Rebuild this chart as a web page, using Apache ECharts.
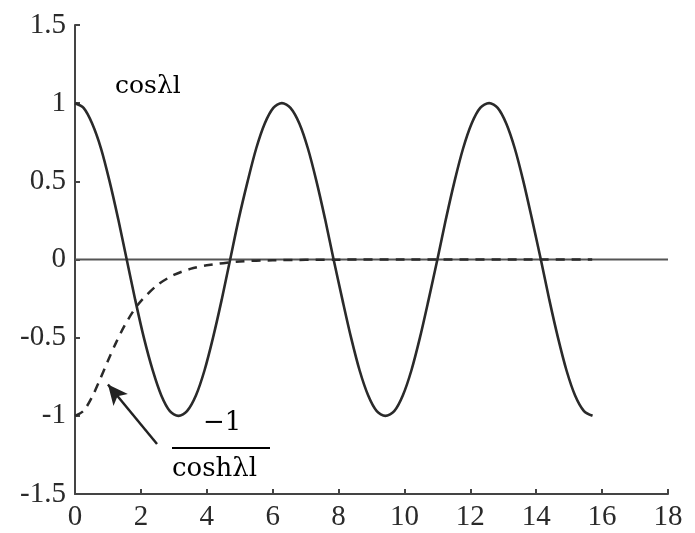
<!DOCTYPE html>
<html>
<head>
<meta charset="utf-8">
<script src="https://cdn.jsdelivr.net/npm/echarts@6/dist/echarts.min.js"></script>
<style>
  html, body { margin: 0; padding: 0; background: #fff; }
  #chart { width: 695px; height: 533px; }
</style>
</head>
<body>
<div id="chart"></div>
<script>
// x positions of the solid curve (0 .. ~15.7)
const cosX = [0, 0.26, 0.52, 0.79, 1.05, 1.31, 1.57, 1.83, 2.09, 2.36, 2.62, 2.88,
  3.14, 3.40, 3.67, 3.93, 4.19, 4.45, 4.71, 4.97, 5.24, 5.50, 5.76, 6.02,
  6.28, 6.54, 6.81, 7.07, 7.33, 7.59, 7.85, 8.12, 8.38, 8.64, 8.90, 9.16,
  9.42, 9.69, 9.95, 10.21, 10.47, 10.73, 11.00, 11.26, 11.52, 11.78, 12.04, 12.30,
  12.57, 12.83, 13.09, 13.35, 13.61, 13.87, 14.14, 14.40, 14.66, 14.92, 15.18, 15.45,
  15.71]
const cosY = [1, 0.97, 0.87, 0.71, 0.5, 0.26, 0, -0.26, -0.5, -0.71, -0.87, -0.97,
  -1, -0.97, -0.87, -0.71, -0.5, -0.26, 0, 0.26, 0.5, 0.71, 0.87, 0.97,
  1, 0.97, 0.87, 0.71, 0.5, 0.26, 0, -0.26, -0.5, -0.71, -0.87, -0.97,
  -1, -0.97, -0.87, -0.71, -0.5, -0.26, 0, 0.26, 0.5, 0.71, 0.87, 0.97,
  1, 0.97, 0.87, 0.71, 0.5, 0.26, 0, -0.26, -0.5, -0.71, -0.87, -0.97,
  -1]
// dashed curve
const coshX = [0, 0.25, 0.5, 0.75, 1, 1.25, 1.5, 1.75, 2, 2.5, 3, 3.5, 4, 5, 6, 8, 10, 15.7]
const coshY = [-1, -0.97, -0.887, -0.772, -0.648, -0.53, -0.425, -0.337, -0.266, -0.163,
  -0.099, -0.06, -0.037, -0.013, -0.005, -0.001, 0, 0]
// zero line
const zeroX = [0, 18]
const zeroY = [0, 0]
// arrow (tail -> tip), data coords
const arrowFrom = [2.49, -1.18]
const arrowTo = [1.0, -0.8]

const xTicks = { min: 0, max: 18, interval: 2 }
const yTicks = { min: -1.5, max: 1.5, interval: 0.5 }

const zip = (xs, ys) => xs.map((x, i) => [x, ys[i]])

const tickFont = {
  color: '#2a2a2a',
  fontFamily: '"Liberation Serif", serif',
  fontSize: 29
}

let chart = echarts.init(document.getElementById('chart'))
chart.setOption({
  animation: false,
  grid: {
    left: 75,
    right: 27,
    top: 25,
    bottom: 39
  },
  xAxis: {
    type: 'value',
    min: xTicks.min,
    max: xTicks.max,
    interval: xTicks.interval,
    axisLine: {
      onZero: false,
      lineStyle: { color: '#444', width: 2 }
    },
    // 刻度朝内
    axisTick: {
      inside: true,
      length: 5,
      lineStyle: { color: '#444', width: 2 }
    },
    axisLabel: Object.assign({ margin: 9 }, tickFont),
    splitLine: { show: false }
  },
  yAxis: {
    type: 'value',
    min: yTicks.min,
    max: yTicks.max,
    interval: yTicks.interval,
    axisLine: {
      show: true,
      onZero: false,
      lineStyle: { color: '#444', width: 2 }
    },
    axisTick: {
      show: true,
      inside: true,
      length: 5,
      lineStyle: { color: '#444', width: 2 }
    },
    axisLabel: Object.assign({ margin: 9 }, tickFont),
    splitLine: { show: false }
  },
  series: [
    {
      type: 'line',
      data: zip(zeroX, zeroY),
      showSymbol: false,
      lineStyle: { color: '#555', width: 2 },
      z: 1
    },
    {
      type: 'line',
      data: zip(coshX, coshY),
      showSymbol: false,
      smooth: 0.3,
      lineStyle: { color: '#2a2a2a', width: 2.5, type: [9, 7] },
      z: 2,
      markLine: {
        silent: true,
        symbol: ['none', 'arrow'],
        symbolSize: [14, 20],
        label: { show: false },
        lineStyle: { color: '#222', width: 2.5, type: 'solid' },
        data: [[
          { coord: arrowFrom },
          { coord: arrowTo }
        ]]
      }
    },
    {
      type: 'line',
      data: zip(cosX, cosY),
      showSymbol: false,
      smooth: 0.3,
      lineStyle: { color: '#2a2a2a', width: 2.6 },
      z: 3
    }
  ],
  graphic: [
    {
      type: 'text',
      left: 115,
      top: 74,
      style: {
        text: 'cosλl',
        font: '25px "DejaVu Serif"',
        fill: '#000'
      }
    },
    {
      type: 'text',
      left: 203,
      top: 410,
      style: {
        text: '−1',
        font: '26px "DejaVu Serif"',
        fill: '#000'
      }
    },
    {
      type: 'line',
      shape: { x1: 172, y1: 448, x2: 270, y2: 448 },
      style: { stroke: '#000', lineWidth: 2 }
    },
    {
      type: 'text',
      left: 172,
      top: 456,
      style: {
        text: 'coshλl',
        font: '26px "DejaVu Serif"',
        fill: '#000'
      }
    }
  ]
})
</script>
</body>
</html>
